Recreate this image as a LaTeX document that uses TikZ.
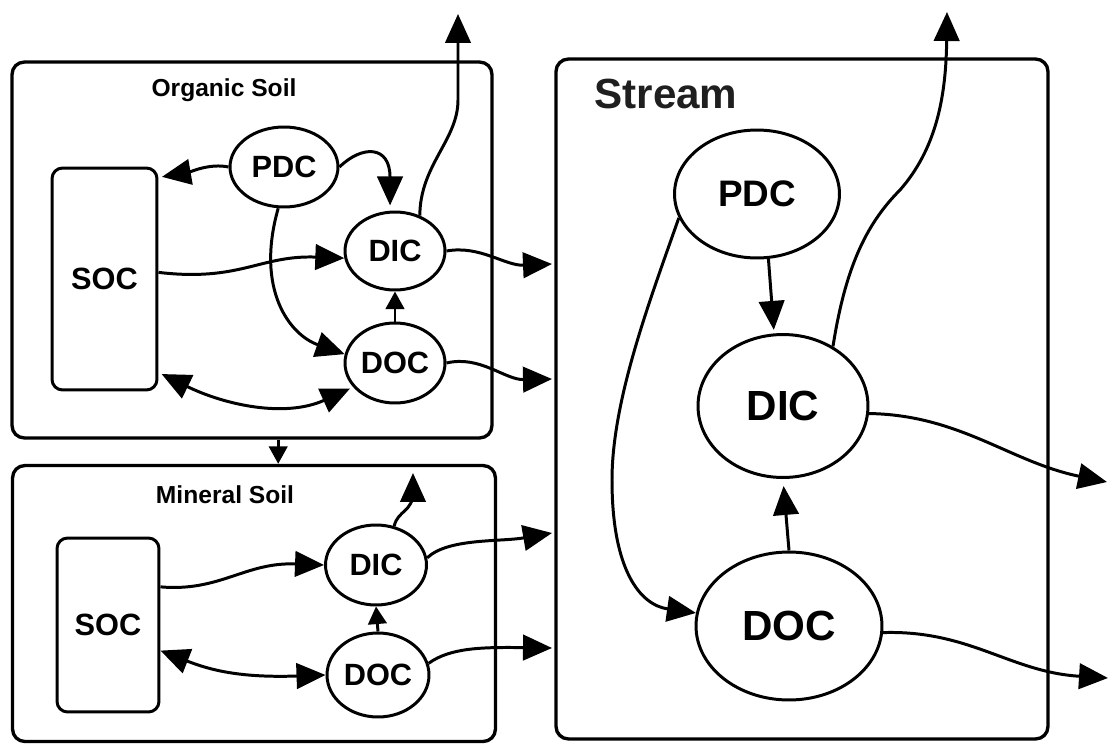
\documentclass[tikz,border=0pt]{standalone}
\usepackage{fontspec}
\setmainfont{Liberation Sans}
\usetikzlibrary{shapes.geometric,arrows.meta}

\begin{document}
\begin{tikzpicture}[x=0.02cm,y=-0.02cm,line width=1.7pt,
	>={Triangle[length=16.5pt,width=14.5pt]},
	compartment/.style={draw,rounded corners=7pt,line width=1.9pt},
	title/.style={inner sep=0pt,font=\fontsize{14}{16}\selectfont\bfseries},
	soc/.style={draw,rounded corners=6pt,inner sep=0pt,font=\fontsize{17.5}{20}\selectfont\bfseries},
	pool/.style={ellipse,draw,inner sep=0pt,font=\fontsize{17.5}{20}\selectfont\bfseries},
	big pool/.style={pool,font=\fontsize{24}{28}\selectfont\bfseries},
	flux/.style={->},
	short flux/.style={-{Triangle[length=10pt,width=10.5pt]}}]
	\useasboundingbox (0,0) rectangle (1110,744);

	% the three compartments
	\draw
		(252,250)   node(organic) [compartment, minimum width=9.6cm,  minimum height=7.52cm] {}
		(254,603.5) node(mineral) [compartment, minimum width=9.66cm, minimum height=5.52cm] {}
		(802,399)   node(stream)  [compartment, minimum width=9.84cm, minimum height=13.6cm] {};
	\node (orgtitle) [title, anchor=base] at (224,96) {Organic Soil};
	\node (mintitle) [title, anchor=base] at (225,503) {Mineral Soil};
	\node (strtitle) [title, anchor=base west, font=\fontsize{24}{28}\selectfont\bfseries, text=black!88] at (593,108) {Stream};

	% organic soil pools
	\draw
		(104.5,279) node(soc1) [soc, minimum width=2.1cm, minimum height=4.44cm] {SOC}
		(284,167)   node(pdc1) [pool, minimum width=2.16cm, minimum height=1.6cm] {PDC}
		(395,251)   node(dic1) [pool, minimum width=2.0cm, minimum height=1.56cm] {DIC}
		(395,363)   node(doc1) [pool, minimum width=2.0cm, minimum height=1.6cm] {DOC};

	% mineral soil pools
	\draw
		(108,625) node(soc2) [soc, minimum width=2.04cm, minimum height=3.48cm] {SOC}
		(376,565) node(dic2) [pool, minimum width=2.02cm, minimum height=1.6cm] {DIC}
		(378,675) node(doc2) [pool, minimum width=2.04cm, minimum height=1.68cm] {DOC};

	% stream pools
	\draw
		(757,194) node(pdc3) [big pool, minimum width=3.3cm, minimum height=2.56cm, font=\fontsize{21}{24}\selectfont\bfseries] {PDC}
		(783,406) node(dic3) [big pool, minimum width=3.4cm, minimum height=2.86cm] {DIC}
		(789,626) node(doc3) [big pool, minimum width=3.72cm, minimum height=2.96cm] {DOC};

	% loose ends of the export fluxes
	\coordinate (out1) at (458,14);
	\coordinate (out2) at (413,473);
	\coordinate (out3) at (947,12);
	\coordinate (in1) at (552,264);
	\coordinate (in2) at (552,379);
	\coordinate (in3) at (552,533);
	\coordinate (in4) at (552,648);
	\coordinate (out4) at (1107,482);
	\coordinate (out5) at (1108,678);

	% organic soil fluxes
	\draw [flux, shorten >=2pt](pdc1.west) .. controls (210,163) and (190,172) .. (soc1.62);
	\draw [flux, shorten >=3pt](pdc1.east) .. controls (362,145) and (390,145) .. (dic1.97);
	\draw [flux](pdc1.262) .. controls (255,290) and (290,335) .. (doc1.170);
	\draw [flux](soc1.7) .. controls (240,282) and (260,255) .. (dic1.188);
	\draw [<->, shorten <=2pt, shorten >=2pt](soc1.-60) .. controls (225,405) and (285,418) .. (doc1.210);
	\draw [short flux](doc1.north) -- (dic1.south);
	\draw [flux](dic1.55) .. controls (420,165) and (458,140) .. (458,100) -- (out1);
	\draw [flux](dic1.east) .. controls (480,245) and (505,266) .. (in1);
	\draw [flux](doc1.east) .. controls (480,355) and (505,380) .. (in2);
	\draw [short flux](organic.south -| pdc1.262) -- (mineral.north -| pdc1.262);

	% mineral soil fluxes
	\draw [flux](soc2.36) .. controls (220,592) and (245,562) .. (dic2.west);
	\draw [<->](soc2.-26) .. controls (210,670) and (240,678) .. (doc2.west);
	\draw [short flux](doc2.north) -- (dic2.south);
	\draw [flux](dic2.65) .. controls (398,510) and (413,512) .. (413,492) -- (out2);
	\draw [flux](dic2.8) .. controls (448,538) and (500,542) .. (in3);
	\draw [flux](doc2.13) .. controls (450,648) and (480,647) .. (in4);

	% stream fluxes
	\draw [flux, shorten >=2pt](pdc3.-80) -- (dic3.97);
	\draw [flux](pdc3.197) .. controls (650,300) and (612,400) .. (612,480)
		.. controls (612,570) and (640,605) .. (doc3.172);
	\draw [flux, shorten >=4pt](doc3.north) -- (dic3.south);
	\draw [flux](dic3.50) .. controls (845,270) and (865,225) .. (900,190)
		.. controls (935,150) and (946,100) .. (out3);
	\draw [flux](dic3.-5) .. controls (960,415) and (1010,462) .. (out4);
	\draw [flux](doc3.-4) .. controls (970,630) and (1010,672) .. (out5);
\end{tikzpicture}
\end{document}
